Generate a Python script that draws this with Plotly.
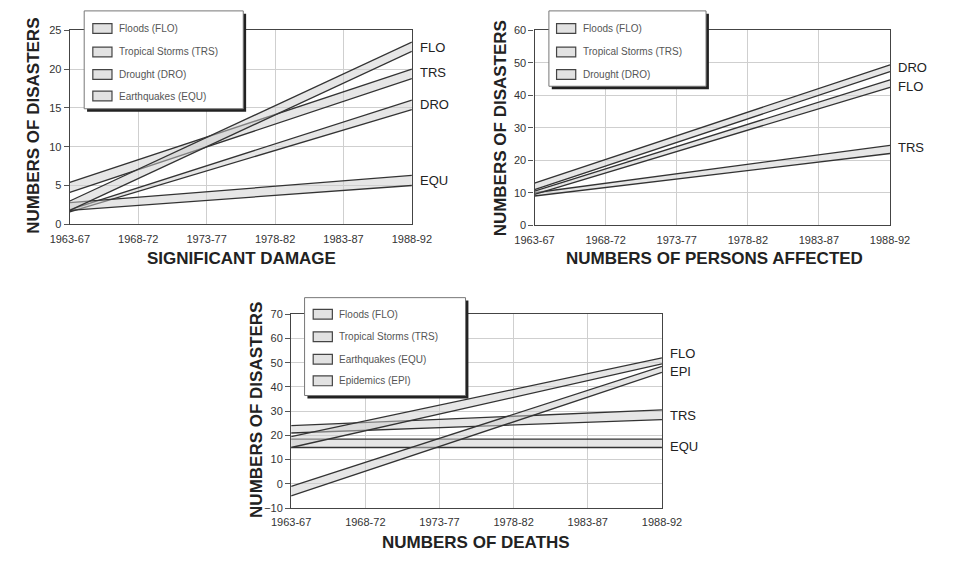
import plotly.graph_objects as go

W, H = 956, 563

cats = ["1963-67", "1968-72", "1973-77", "1978-82", "1983-87", "1988-92"]
ends = [cats[0], cats[-1]]

# Significant damage (upper / lower edge of each band, first and last period)
dmg_flo_hi = [3.0, 23.5]; dmg_flo_lo = [1.8, 22.3]
dmg_trs_hi = [5.4, 20.0]; dmg_trs_lo = [4.1, 18.8]
dmg_dro_hi = [1.9, 16.0]; dmg_dro_lo = [1.6, 14.8]
dmg_equ_hi = [2.8, 6.3]; dmg_equ_lo = [1.8, 5.0]

# Numbers of persons affected
aff_dro_hi = [13.0, 49.4]; aff_dro_lo = [11.0, 47.3]
aff_flo_hi = [10.5, 44.8]; aff_flo_lo = [9.5, 42.5]
aff_trs_hi = [10.0, 24.6]; aff_trs_lo = [9.0, 22.1]

# Numbers of deaths
dth_flo_hi = [19.5, 52.0]; dth_flo_lo = [15.0, 49.5]
dth_trs_hi = [24.0, 30.5]; dth_trs_lo = [21.0, 26.5]
dth_equ_hi = [18.5, 18.5]; dth_equ_lo = [15.0, 15.0]
dth_epi_hi = [-1.0, 48.5]; dth_epi_lo = [-5.0, 46.0]

legend1 = ["Floods (FLO)", "Tropical Storms (TRS)", "Drought (DRO)", "Earthquakes (EQU)"]
legend2 = ["Floods (FLO)", "Tropical Storms (TRS)", "Drought (DRO)"]
legend3 = ["Floods (FLO)", "Tropical Storms (TRS)", "Earthquakes (EQU)", "Epidemics (EPI)"]

LINE = "#333333"
FILL = "rgba(205,205,205,0.5)"
TXT = "#333333"
TICKFONT = dict(family="Liberation Sans Narrow, Liberation Sans", size=11, color=TXT)

fig = go.Figure()


def band(hi, lo, xa, ya):
    fig.add_trace(go.Scatter(x=ends, y=hi, mode="lines", xaxis=xa, yaxis=ya,
                             line=dict(color=LINE, width=1.3), showlegend=False,
                             hoverinfo="skip"))
    fig.add_trace(go.Scatter(x=ends, y=lo, mode="lines", xaxis=xa, yaxis=ya,
                             line=dict(color=LINE, width=1.3), fill="tonexty",
                             fillcolor=FILL, showlegend=False, hoverinfo="skip"))


for hi, lo in [(dmg_dro_hi, dmg_dro_lo), (dmg_equ_hi, dmg_equ_lo),
               (dmg_trs_hi, dmg_trs_lo), (dmg_flo_hi, dmg_flo_lo)]:
    band(hi, lo, "x", "y")
for hi, lo in [(aff_trs_hi, aff_trs_lo), (aff_flo_hi, aff_flo_lo),
               (aff_dro_hi, aff_dro_lo)]:
    band(hi, lo, "x2", "y2")
for hi, lo in [(dth_equ_hi, dth_equ_lo), (dth_trs_hi, dth_trs_lo),
               (dth_epi_hi, dth_epi_lo), (dth_flo_hi, dth_flo_lo)]:
    band(hi, lo, "x3", "y3")


def px(x):
    return x / W


def py(y):
    return 1 - y / H


def xaxis(l, r):
    return dict(domain=[px(l), px(r)], type="category", categoryorder="array",
                categoryarray=cats, range=[0, 5], showgrid=True, gridcolor="#cfcfcf",
                gridwidth=1, showline=True, linecolor="#444", linewidth=1.3, mirror=True,
                ticks="", ticklabelstandoff=4, tickfont=TICKFONT,
                zeroline=False, fixedrange=True)


def yaxis(t, b, rng, dt, xa):
    return dict(domain=[py(b), py(t)], range=rng, dtick=dt, tick0=0, anchor=xa,
                showgrid=True, gridcolor="#cfcfcf", gridwidth=1, showline=True,
                linecolor="#444", linewidth=1.3, mirror=True, ticks="outside",
                ticklen=5, tickcolor="#555", tickfont=TICKFONT,
                zeroline=False, fixedrange=True)


fig.update_layout(
    width=W, height=H, margin=dict(l=0, r=0, t=0, b=0),
    paper_bgcolor="white", plot_bgcolor="white", showlegend=False,
    xaxis=dict(xaxis(52, 409), anchor="y"),
    yaxis=yaxis(25, 223, [0, 25], 5, "x"),
    xaxis2=dict(xaxis(537, 908), anchor="y2"),
    yaxis2=yaxis(25, 224, [0, 60], 10, "x2"),
    xaxis3=dict(xaxis(283, 670), anchor="y3"),
    yaxis3=yaxis(315, 513, [-10, 70], 10, "x3"),
)

shapes = []
annos = []


def legend_box(x0, y0, x1, y1, rows, labels, sx, tx):
    shapes.append(dict(type="rect", xref="paper", yref="paper", x0=px(x0 + 3), x1=px(x1 + 3),
                       y0=py(y1 + 3), y1=py(y0 + 3), fillcolor="#222", line=dict(width=0), layer="above"))
    shapes.append(dict(type="rect", xref="paper", yref="paper", x0=px(x0), x1=px(x1),
                       y0=py(y1), y1=py(y0), fillcolor="white", line=dict(color="#777", width=1), layer="above"))
    for r, lab in zip(rows, labels):
        shapes.append(dict(type="rect", xref="paper", yref="paper", x0=px(sx), x1=px(sx + 20),
                           y0=py(r + 5), y1=py(r - 5), fillcolor="#e2e2e2",
                           line=dict(color="#444", width=1.2), layer="above"))
        annos.append(dict(text=lab, xref="paper", yref="paper", x=px(tx), y=py(r),
                          xanchor="left", yanchor="middle", showarrow=False,
                          font=dict(family="Liberation Sans", size=10, color="#555")))


legend_box(67, 5, 233, 105, [23, 47, 70, 92], legend1, 76, 101)
legend_box(552, 5, 716, 82, [23, 47, 70], legend2, 560, 585)
legend_box(297, 298, 465, 398, [315, 338, 361, 383], legend3, 306, 331)


def lab(text, x, y, size=12, bold=False, angle=0, anchor="left"):
    annos.append(dict(text=f"<b>{text}</b>" if bold else text, xref="paper", yref="paper",
                      x=px(x), y=py(y), xanchor=anchor, yanchor="middle", showarrow=False,
                      textangle=angle,
                      font=dict(family="Liberation Sans", size=size, color="#222")))


# right-hand series labels
for t, y in [("FLO", 42), ("TRS", 68), ("DRO", 101), ("EQU", 178)]:
    lab(t, 415, y, size=13)
for t, y in [("DRO", 63), ("FLO", 82), ("TRS", 145)]:
    lab(t, 914, y, size=13)
for t, y in [("FLO", 355), ("EPI", 373), ("TRS", 418), ("EQU", 450)]:
    lab(t, 676, y, size=13)

# axis titles
lab("NUMBERS OF DISASTERS", 14, 122, size=17, bold=True, angle=-90, anchor="center")
lab("NUMBERS OF DISASTERS", 501, 125, size=17, bold=True, angle=-90, anchor="center")
lab("NUMBERS OF DISASTERS", 246, 413, size=17, bold=True, angle=-90, anchor="center")
lab("SIGNIFICANT DAMAGE", 231, 258, size=17, bold=True, anchor="center")
lab("NUMBERS OF PERSONS AFFECTED", 725, 258, size=17, bold=True, anchor="center")
lab("NUMBERS OF DEATHS", 476, 548, size=17, bold=True, anchor="center")

fig.update_layout(shapes=shapes, annotations=annos)
fig.write_html("out.html")
